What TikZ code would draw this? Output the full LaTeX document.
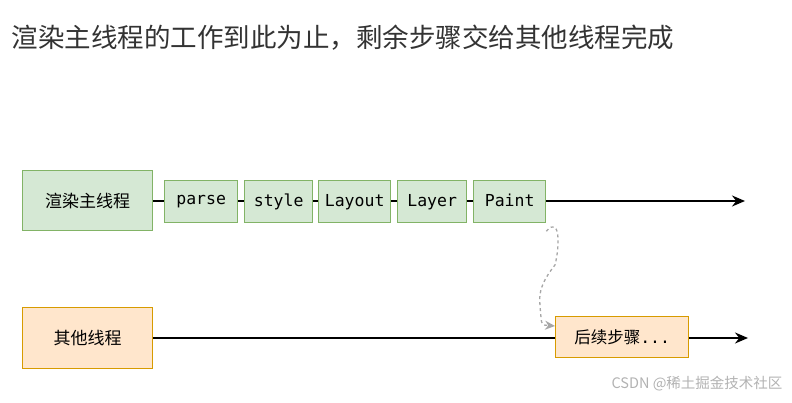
\documentclass[tikz,border=0pt]{standalone}
\usepackage{fontspec}
\newfontfamily\cjk{Noto Sans CJK SC}
\setmonofont{DejaVu Sans Mono}
\usetikzlibrary{arrows.meta}
\definecolor{gfill}{HTML}{D5E8D4}\definecolor{gline}{HTML}{82B366}
\definecolor{ofill}{HTML}{FFE6CC}\definecolor{oline}{HTML}{D79B00}
\begin{document}
\begin{tikzpicture}[x=1pt,y=-1pt,
  gbox/.style={draw=gline,fill=gfill,line width=1.3pt,anchor=north west,inner sep=0pt},
  obox/.style={draw=oline,fill=ofill,line width=1.3pt,anchor=north west,inner sep=0pt},
  lbl/.style={font=\ttfamily\fontsize{16.5}{18}\selectfont,text depth=3pt},
  arr/.style={line width=1.3pt,-{Stealth[length=13pt,width=11pt]}}]
\useasboundingbox (0,0) rectangle (792,403);
\node[anchor=west,text=black!80,font=\cjk\fontsize{26.5}{30}\selectfont] (title) at (8,38) {渲染主线程的工作到此为止，剩余步骤交给其他线程完成};
\coordinate (e1) at (745,201);
\coordinate (e2) at (748,338);
\draw[arr] (152,201) -- (e1);
\draw[arr] (152,338) -- (e2);
\node[gbox,minimum width=130pt,minimum height=60pt,font=\cjk\fontsize{17}{19}\selectfont] (main) at (22,170) {渲染主线程};
\node[gbox,lbl,minimum width=73pt,minimum height=42pt] (parse) at (164,180) {parse};
\node[gbox,lbl,minimum width=68pt,minimum height=42pt] (style) at (244,180) {style};
\node[gbox,lbl,minimum width=72pt,minimum height=42pt] (layout) at (318,180) {Layout};
\node[gbox,lbl,minimum width=69pt,minimum height=42pt] (layer) at (397,180) {Layer};
\node[gbox,lbl,minimum width=72pt,minimum height=42pt] (paint) at (473,180) {Paint};
\node[obox,minimum width=130pt,minimum height=61pt,font=\cjk\fontsize{17}{19}\selectfont] (other) at (22,307) {其他线程};
\node[obox,minimum width=133pt,minimum height=41pt,font=\fontsize{16.5}{18}\selectfont] (next) at (555,316) {{\cjk 后续步骤}\ttfamily...};
\draw[black!35,dashed,line width=1.3pt,-{Stealth[length=10pt,width=9pt]}]
  ([yshift=-8pt]paint.south east) .. controls (560,215) and (560,245) .. (555,265)
  .. controls (535,290) and (540,300) .. (541,318) .. controls (542,325) .. (next.west|-0,326);
\node[anchor=east,text=black!30,font=\cjk\fontsize{14.5}{16}\selectfont] (wm) at (786,384) {CSDN @稀土掘金技术社区};
\end{tikzpicture}
\end{document}
